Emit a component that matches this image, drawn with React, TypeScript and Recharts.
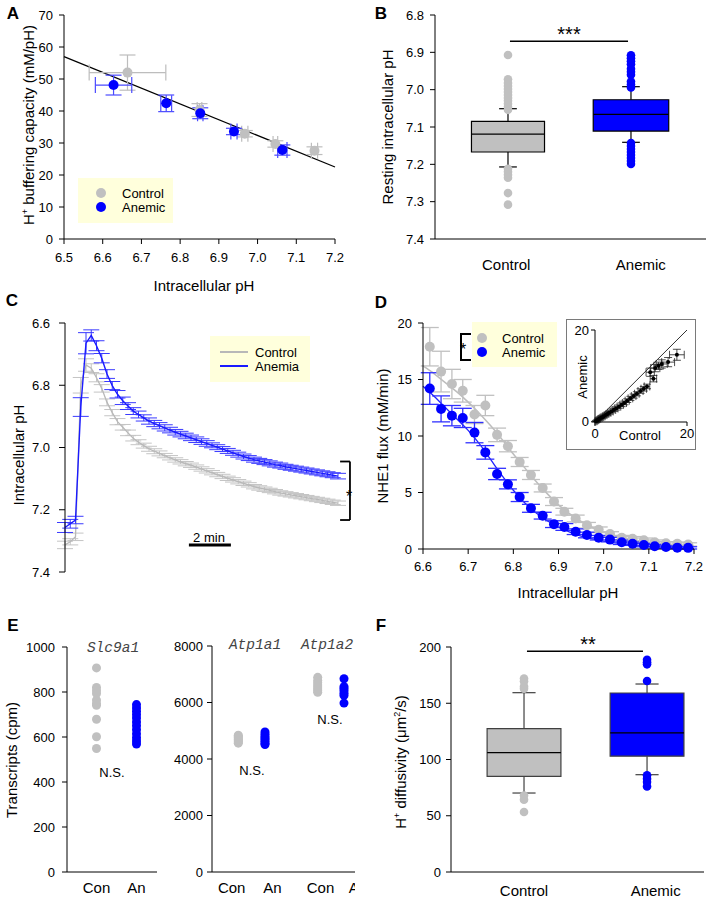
import React from 'react'
import {
  ComposedChart, Scatter, Line, XAxis, YAxis, ErrorBar, ReferenceArea, ReferenceLine,
} from 'recharts'

const FONT = '"Liberation Sans", Arial, sans-serif'
const MONO = '"Liberation Mono", "DejaVu Sans Mono", monospace'
const GRAY = '#c0c0c0'
const BLUE = '#0000ff'
const CREAM = '#ffffdc'

// ---- A: buffering capacity vs pHi
const aCtrlPH = [6.664, 6.85, 6.967, 7.046, 7.147]
const aCtrlBeta = [52.0, 40.3, 32.9, 29.7, 27.6]
const aCtrlPHErr = [0.099, 0.006, 0.008, 0.006, 0.008]
const aCtrlBetaErr = [5.5, 2.0, 1.0, 1.0, 1.2]
const aAnemPH = [6.628, 6.764, 6.852, 6.939, 7.064]
const aAnemBeta = [48.1, 42.4, 39.3, 33.6, 27.8]
const aAnemPHErr = [0.047, 0.014, 0.007, 0.008, 0.012]
const aAnemBetaErr = [3.1, 2.6, 1.7, 1.0, 1.6]
const aFitPH = [6.5, 7.2]
const aFitBeta = [57.0, 22.5]

// ---- B: resting pHi box plot (reversed axis)
const bGroups = ['Control', 'Anemic']
const bPos = [1, 2]
const bLabelPos = [0.985, 2.08]
const bQ1 = [7.085, 7.027]
const bMed = [7.119, 7.066]
const bQ3 = [7.167, 7.111]
const bWhLo = [7.051, 6.992]
const bWhHi = [7.207, 7.141]
const bOutCtrl = [6.907, 6.972, 6.982, 6.99, 6.998, 7.006, 7.014, 7.022, 7.03, 7.038, 7.046, 7.054, 7.212, 7.22, 7.228, 7.236, 7.277, 7.308]
const bOutAnem = [6.908, 6.916, 6.924, 6.932, 6.944, 6.952, 6.96, 6.978, 6.986, 6.994, 7.143, 7.151, 7.159, 7.167, 7.175, 7.183, 7.191, 7.199]

// ---- C: pHi time course (min)
const cTime = [0, 0.25, 0.5, 0.75, 1, 1.25, 1.5, 1.75, 2, 2.25, 2.5, 2.75, 3, 3.25, 3.5, 3.75, 4, 4.25, 4.5, 4.75,
  5, 5.25, 5.5, 5.75, 6, 6.25, 6.5, 6.75, 7, 7.25, 7.5, 7.75, 8, 8.25, 8.5, 8.75, 9, 9.25, 9.5, 9.75,
  10, 10.25, 10.5, 10.75, 11, 11.25, 11.5, 11.75, 12, 12.25, 12.5, 12.75, 13]
const cCtrl = [7.313, 7.303, 7.287, 6.80, 6.735, 6.745, 6.776, 6.810, 6.855, 6.888,
  6.917, 6.935, 6.953, 6.970, 6.983, 6.994, 7.004, 7.012, 7.019, 7.026,
  7.033, 7.040, 7.046, 7.052, 7.057, 7.063, 7.069, 7.075, 7.081, 7.087,
  7.093, 7.099, 7.104, 7.110, 7.115, 7.120, 7.126, 7.130, 7.134, 7.138,
  7.142, 7.146, 7.149, 7.152, 7.155, 7.158, 7.161, 7.164, 7.167, 7.170,
  7.173, 7.176, 7.179]
const cCtrlErr = [0.012, 0.010, 0.012, 0.025, 0.02, 0.014, 0.013, 0.012, 0.011, 0.010,
  0.010, 0.009, 0.009, 0.009, 0.008, 0.008, 0.008, 0.008, 0.008, 0.007,
  0.007, 0.007, 0.007, 0.007, 0.007, 0.007, 0.007, 0.007, 0.007, 0.007,
  0.007, 0.007, 0.007, 0.007, 0.007, 0.007, 0.007, 0.007, 0.007, 0.007,
  0.007, 0.007, 0.007, 0.007, 0.007, 0.007, 0.007, 0.007, 0.007, 0.007,
  0.007, 0.007, 0.007]
const cAnem = [7.257, 7.245, 7.233, 6.87, 6.665, 6.640, 6.673, 6.713, 6.764, 6.801,
  6.829, 6.850, 6.867, 6.883, 6.894, 6.905, 6.915, 6.923, 6.930, 6.937,
  6.944, 6.951, 6.957, 6.963, 6.969, 6.975, 6.981, 6.987, 6.993, 6.999,
  7.005, 7.011, 7.017, 7.023, 7.029, 7.034, 7.039, 7.043, 7.047, 7.051,
  7.055, 7.058, 7.062, 7.065, 7.068, 7.071, 7.074, 7.077, 7.080, 7.083,
  7.086, 7.089, 7.092]
const cAnemErr = [0.016, 0.014, 0.012, 0.03, 0.034, 0.018, 0.016, 0.015, 0.014, 0.013,
  0.012, 0.012, 0.011, 0.011, 0.011, 0.010, 0.010, 0.010, 0.010, 0.010,
  0.009, 0.009, 0.009, 0.009, 0.009, 0.009, 0.009, 0.009, 0.008, 0.008,
  0.008, 0.008, 0.008, 0.008, 0.008, 0.008, 0.008, 0.008, 0.008, 0.008,
  0.008, 0.008, 0.008, 0.008, 0.008, 0.008, 0.008, 0.008, 0.008, 0.008,
  0.008, 0.008, 0.009]

// ---- D: NHE1 flux vs pHi
const dPH = [6.615, 6.64, 6.664, 6.688, 6.714, 6.738, 6.764, 6.788, 6.814, 6.839, 6.865, 6.89,
  6.913, 6.938, 6.963, 6.989, 7.014, 7.04, 7.064, 7.089, 7.113, 7.138, 7.163, 7.187]
const dCtrl = [17.9, 15.7, 14.6, 14.0, 11.9, 12.7, 10.1, 9.1, 7.7, 6.55, 5.4, 4.2, 3.3, 2.7, 2.1, 1.7, 1.33, 1.0, 0.9, 0.77, 0.6, 0.5, 0.47, 0.4]
const dCtrlErr = [1.7, 1.8, 1.3, 1.0, 0.8, 0.9, 0.6, 0.5, 0.4, 0.4, 0.35, 0.35, 0.3, 0.3, 0.25, 0.25, 0.2, 0.2, 0.2, 0.2, 0.2, 0.15, 0.15, 0.15]
const dAnem = [14.2, 12.4, 11.8, 11.6, 10.3, 8.55, 6.64, 5.72, 4.6, 3.6, 2.95, 2.2, 1.95, 1.53, 1.24, 1.0, 0.83, 0.6, 0.47, 0.35, 0.24, 0.18, 0.12, 0.1]
const dAnemErr = [1.4, 1.15, 0.9, 0.85, 0.9, 0.6, 0.5, 0.4, 0.4, 0.35, 0.3, 0.3, 0.3, 0.25, 0.25, 0.2, 0.2, 0.2, 0.15, 0.15, 0.15, 0.1, 0.1, 0.1]
const dFitPH = [6.6, 6.625, 6.65, 6.675, 6.7, 6.725, 6.75, 6.775, 6.8, 6.825, 6.85, 6.875, 6.9,
  6.925, 6.95, 6.975, 7.0, 7.025, 7.05, 7.075, 7.1, 7.125, 7.15, 7.175, 7.2]
const dFitCtrl = [16.2, 15.5, 14.7, 13.9, 13.0, 12.0, 10.9, 9.7, 8.4, 7.2, 6.0, 4.9, 3.9, 3.1, 2.45, 1.9, 1.5, 1.18, 0.94, 0.75, 0.6, 0.5, 0.42, 0.36, 0.32]
const dFitAnem = [14.4, 13.5, 12.5, 11.5, 10.5, 9.3, 7.9, 6.5, 5.2, 4.1, 3.2, 2.5, 1.95, 1.5, 1.15, 0.9, 0.7, 0.55, 0.42, 0.32, 0.25, 0.19, 0.14, 0.1, 0.07]

// inset: anemic vs control flux
const insCtrl = [0.2, 0.4, 0.6, 0.8, 1.0, 1.3, 1.6, 1.9, 2.3, 2.7, 3.1, 3.6, 4.1, 4.6, 5.2, 5.8, 6.4, 7.0, 7.7, 8.4, 9.1, 9.9, 10.6, 11.3, 12.0, 12.7, 13.1, 13.8, 14.5, 15.9, 17.8]
const insAnem = [0.1, 0.25, 0.4, 0.55, 0.65, 0.85, 1.0, 1.2, 1.45, 1.7, 1.95, 2.25, 2.6, 2.9, 3.3, 3.7, 4.1, 4.6, 5.1, 5.6, 6.1, 6.7, 7.2, 7.7, 10.8, 9.4, 11.7, 12.2, 12.6, 13.0, 14.6]
const insCtrlErr = [0.2, 0.2, 0.2, 0.2, 0.25, 0.25, 0.3, 0.3, 0.3, 0.3, 0.35, 0.35, 0.4, 0.4, 0.4, 0.4, 0.45, 0.45, 0.5, 0.5, 0.5, 0.55, 0.6, 0.6, 0.9, 0.7, 1.0, 1.0, 1.2, 1.4, 1.6]
const insAnemErr = [0.15, 0.15, 0.15, 0.2, 0.2, 0.2, 0.25, 0.25, 0.25, 0.3, 0.3, 0.3, 0.35, 0.35, 0.35, 0.4, 0.4, 0.4, 0.45, 0.45, 0.45, 0.5, 0.5, 0.5, 0.9, 0.7, 0.8, 0.8, 0.9, 1.0, 1.2]

// ---- E: transcripts
const eLGroups = ['Con', 'An']
const eLPos = [2.95, 6.95]
const eSlcCon = [907, 820, 806, 793, 764, 749, 741, 679, 601, 549]
const eSlcAn = [744, 729, 714, 699, 684, 667, 650, 632, 614, 597, 582, 569]
const eRGroups = ['Con', 'An', 'Con', 'An']
const eRTickPos = [1.97, 6.05, 10.85, 14.6]
const eRDotPos = [2.63, 5.3, 10.57, 13.2]
const eAtp1Con = [4560, 4600, 4640, 4680, 4720, 4760, 4800, 4840]
const eAtp1An = [4510, 4560, 4620, 4680, 4740, 4800, 4880, 4960]
const eAtp2Con = [6360, 6420, 6480, 6550, 6620, 6700, 6780, 6890]
const eAtp2An = [5980, 6250, 6330, 6420, 6500, 6560, 6840]

// ---- F: H+ diffusivity box plot
const fGroups = ['Control', 'Anemic']
const fPos = [1, 2]
const fLabelPos = [1, 2.07]
const fQ1 = [85.0, 103.0]
const fMed = [106.1, 123.6]
const fQ3 = [127.4, 159.1]
const fWhLo = [70.2, 86.5]
const fWhHi = [159.4, 167.1]
const fOutCtrl = [171.9, 169.5, 165, 163, 68, 64.3, 53.3]
const fOutAnem = [188.7, 186.5, 184.6, 169.8, 86, 83, 80, 76.1]

const tick13 = { fill: '#000', fontSize: 13, fontFamily: FONT }
const tick15 = { fill: '#000', fontSize: 15, fontFamily: FONT }
const ax = { stroke: '#000', strokeWidth: 1 }

const dot = (r: number, fill: string) => (p: any) =>
  p.cx == null ? <g /> : <circle cx={p.cx} cy={p.cy} r={r} fill={fill} />

const pts = (xs: number[], ys: number[]) => xs.map((x, i) => ({ x, y: ys[i] }))
const col = (x: number, ys: number[]) => ys.map((y) => ({ x, y }))

function Txt({ x, y, size = 15, rot = false, bold = false, left = false, color = '#000', italic = false, family = FONT, children }: any) {
  return (
    <div style={{
      position: 'absolute', left: x, top: y, whiteSpace: 'nowrap', lineHeight: 1,
      transform: `translate(${left ? '0' : '-50%'},-50%)${rot ? ' rotate(-90deg)' : ''}`,
      fontSize: size, fontWeight: bold ? 700 : 400, fontStyle: italic ? 'italic' : 'normal',
      fontFamily: family, color,
    }}>{children}</div>
  )
}

function Pos({ x, y, w, h, clip, children }: any) {
  return <div style={{ position: 'absolute', left: x, top: y, width: w, height: h, overflow: clip ? 'hidden' : 'visible' }}>{children}</div>
}

function boxParts(k: string, pos: number, q1: number, med: number, q3: number, lo: number, hi: number,
  halfW: number, capW: number, fill: string, edge: string) {
  return [
    <ReferenceLine key={k + 'w1'} segment={[{ x: pos, y: q1 }, { x: pos, y: lo }]} stroke={edge} strokeWidth={1.2} />,
    <ReferenceLine key={k + 'w2'} segment={[{ x: pos, y: q3 }, { x: pos, y: hi }]} stroke={edge} strokeWidth={1.2} />,
    <ReferenceLine key={k + 'c1'} segment={[{ x: pos - capW, y: lo }, { x: pos + capW, y: lo }]} stroke={edge} strokeWidth={1.2} />,
    <ReferenceLine key={k + 'c2'} segment={[{ x: pos - capW, y: hi }, { x: pos + capW, y: hi }]} stroke={edge} strokeWidth={1.2} />,
    <ReferenceArea key={k + 'b'} x1={pos - halfW} x2={pos + halfW} y1={q1} y2={q3} fill={fill} fillOpacity={1} stroke={edge} strokeWidth={1.2} />,
    <ReferenceLine key={k + 'm'} segment={[{ x: pos - halfW, y: med }, { x: pos + halfW, y: med }]} stroke="#000" strokeWidth={1.2} />,
  ]
}

function PanelA() {
  const ctrl = aCtrlPH.map((x, i) => ({ x, y: aCtrlBeta[i], ex: aCtrlPHErr[i], ey: aCtrlBetaErr[i] }))
  const anem = aAnemPH.map((x, i) => ({ x, y: aAnemBeta[i], ex: aAnemPHErr[i], ey: aAnemBetaErr[i] }))
  return (
    <ComposedChart width={354} height={300} margin={{ top: 15, right: 19, bottom: 31, left: 0 }}>
      <XAxis type="number" dataKey="x" domain={[6.5, 7.2]} ticks={[6.5, 6.6, 6.7, 6.8, 6.9, 7.0, 7.1, 7.2]} interval={0}
        tickFormatter={(v) => v.toFixed(1)} height={30} tick={tick13} axisLine={ax} tickLine={ax} tickSize={5} tickMargin={9} />
      <YAxis type="number" domain={[0, 70]} ticks={[0, 10, 20, 30, 40, 50, 60, 70]} interval={0} width={64}
        tick={tick13} axisLine={ax} tickLine={ax} tickSize={5} tickMargin={6} />
      <Line data={pts(aFitPH, aFitBeta)} dataKey="y" stroke="#000" strokeWidth={1.2} dot={false} isAnimationActive={false} />
      <Scatter data={ctrl} dataKey="y" shape={dot(5, GRAY)} isAnimationActive={false}>
        <ErrorBar dataKey="ex" direction="x" width={8} stroke="#bdbdbd" strokeWidth={1.2} />
        <ErrorBar dataKey="ey" direction="y" width={8} stroke="#bdbdbd" strokeWidth={1.2} />
      </Scatter>
      <Scatter data={anem} dataKey="y" shape={dot(5, BLUE)} isAnimationActive={false}>
        <ErrorBar dataKey="ex" direction="x" width={8} stroke="#4a4aff" strokeWidth={1.2} />
        <ErrorBar dataKey="ey" direction="y" width={8} stroke="#4a4aff" strokeWidth={1.2} />
      </Scatter>
    </ComposedChart>
  )
}

function PanelB() {
  return (
    <ComposedChart width={354} height={300} margin={{ top: 15, right: 2, bottom: 31, left: 0 }}>
      <XAxis type="number" dataKey="x" domain={[0.4065, 2.61]} ticks={bLabelPos} interval={0}
        tickFormatter={(v) => bGroups[bLabelPos.indexOf(v)]} height={30} tick={tick15} axisLine={ax} tickLine={false} tickSize={0} tickMargin={20} />
      <YAxis type="number" reversed domain={[6.8, 7.4]} ticks={[6.8, 6.9, 7.0, 7.1, 7.2, 7.3, 7.4]} interval={0} width={81}
        tickFormatter={(v) => v.toFixed(1)} tick={tick13} axisLine={ax} tickLine={ax} tickSize={5} tickMargin={6} />
      <Scatter data={col(bPos[0], bOutCtrl)} dataKey="y" shape={dot(4.3, GRAY)} isAnimationActive={false} />
      <Scatter data={col(bPos[1], bOutAnem)} dataKey="y" shape={dot(4.3, BLUE)} isAnimationActive={false} />
      {boxParts('bc', bPos[0], bQ1[0], bMed[0], bQ3[0], bWhLo[0], bWhHi[0], 0.297, 0.072, GRAY, '#000')}
      {boxParts('ba', bPos[1], bQ1[1], bMed[1], bQ3[1], bWhLo[1], bWhHi[1], 0.307, 0.072, BLUE, '#000')}
      <ReferenceLine segment={[{ x: 1.016, y: 6.87 }, { x: 1.976, y: 6.87 }]} stroke="#000" strokeWidth={1.5} />
    </ComposedChart>
  )
}

function PanelC() {
  const rows = cTime.map((x, i) => ({ x, ctrl: cCtrl[i], ctrlErr: cCtrlErr[i], anem: cAnem[i], anemErr: cAnemErr[i] }))
  return (
    <ComposedChart width={354} height={310} data={rows} margin={{ top: 33, right: 16, bottom: 28, left: 0 }}>
      <XAxis type="number" dataKey="x" domain={[0, 13]} hide height={0} />
      <YAxis type="number" reversed domain={[6.6, 7.4]} ticks={[6.6, 6.8, 7.0, 7.2, 7.4]} interval={0} width={65}
        tickFormatter={(v) => v.toFixed(1)} tick={tick13} axisLine={ax} tickLine={ax} tickSize={6} tickMargin={9} />
      <Line dataKey="ctrl" stroke="#b8b8b8" strokeWidth={1.3} dot={false} isAnimationActive={false}>
        <ErrorBar dataKey="ctrlErr" direction="y" width={8} stroke="#c4c4c4" strokeWidth={1} />
      </Line>
      <Line dataKey="anem" stroke="#1a1aff" strokeWidth={1.4} dot={false} isAnimationActive={false}>
        <ErrorBar dataKey="anemErr" direction="y" width={8} stroke="#3a3aff" strokeWidth={1} />
      </Line>
      <ReferenceLine segment={[{ x: 5.9, y: 7.313 }, { x: 7.9, y: 7.313 }]} stroke="#000" strokeWidth={3} ifOverflow="visible" />
      <ReferenceLine segment={[{ x: 13.1, y: 7.045 }, { x: 13.57, y: 7.045 }]} stroke="#000" strokeWidth={1.8} ifOverflow="visible" />
      <ReferenceLine segment={[{ x: 13.57, y: 7.045 }, { x: 13.57, y: 7.233 }]} stroke="#000" strokeWidth={1.8} ifOverflow="visible" />
      <ReferenceLine segment={[{ x: 13.1, y: 7.233 }, { x: 13.57, y: 7.233 }]} stroke="#000" strokeWidth={1.8} ifOverflow="visible" />
    </ComposedChart>
  )
}

function PanelD() {
  const ctrl = dPH.map((x, i) => ({ x, y: dCtrl[i], e: dCtrlErr[i] }))
  const anem = dPH.map((x, i) => ({ x, y: dAnem[i], e: dAnemErr[i] }))
  return (
    <ComposedChart width={354} height={310} margin={{ top: 33, right: 14, bottom: 21, left: 0 }}>
      <XAxis type="number" dataKey="x" domain={[6.6, 7.2]} ticks={[6.6, 6.7, 6.8, 6.9, 7.0, 7.1, 7.2]} interval={0}
        tickFormatter={(v) => v.toFixed(1)} height={30} tick={tick13} axisLine={ax} tickLine={ax} tickSize={5} tickMargin={8} />
      <YAxis type="number" domain={[0, 20]} ticks={[0, 5, 10, 15, 20]} interval={0} width={69}
        tick={tick13} axisLine={ax} tickLine={ax} tickSize={5} tickMargin={6} />
      <Line data={pts(dFitPH, dFitCtrl)} dataKey="y" type="monotone" stroke="#bdbdbd" strokeWidth={1.5} dot={false} isAnimationActive={false} />
      <Line data={pts(dFitPH, dFitAnem)} dataKey="y" type="monotone" stroke="#2020ff" strokeWidth={1.3} dot={false} isAnimationActive={false} />
      <Scatter data={ctrl} dataKey="y" shape={dot(5, GRAY)} isAnimationActive={false}>
        <ErrorBar dataKey="e" direction="y" width={9} stroke="#c0c0c0" strokeWidth={1.3} />
      </Scatter>
      <Scatter data={anem} dataKey="y" shape={dot(5, BLUE)} isAnimationActive={false}>
        <ErrorBar dataKey="e" direction="y" width={9} stroke="#3030ff" strokeWidth={1.3} />
      </Scatter>
    </ComposedChart>
  )
}

function Inset() {
  const rows = insCtrl.map((x, i) => ({ x, y: insAnem[i], ex: insCtrlErr[i], ey: insAnemErr[i] }))
  return (
    <ComposedChart width={128} height={129} margin={{ top: 10, right: 8, bottom: 7, left: 0 }}>
      <XAxis type="number" dataKey="x" domain={[0, 20]} ticks={[0, 20]} interval={0} height={20}
        tick={tick13} axisLine={ax} tickLine={ax} tickSize={4} tickMargin={3} />
      <YAxis type="number" domain={[0, 20]} ticks={[0, 20]} interval={0} width={28}
        tick={tick13} axisLine={ax} tickLine={ax} tickSize={4} tickMargin={2} />
      <ReferenceLine segment={[{ x: 0, y: 0 }, { x: 20, y: 20 }]} stroke="#333" strokeWidth={1} />
      <Scatter data={rows} dataKey="y" shape={dot(2, '#000')} isAnimationActive={false}>
        <ErrorBar dataKey="ex" direction="x" width={4} stroke="#222" strokeWidth={0.8} />
        <ErrorBar dataKey="ey" direction="y" width={4} stroke="#222" strokeWidth={0.8} />
      </Scatter>
    </ComposedChart>
  )
}

function PanelELeft() {
  return (
    <ComposedChart width={170} height={298} margin={{ top: 47, right: 13, bottom: 0, left: 0 }}>
      <XAxis type="number" dataKey="x" domain={[0, 9]} ticks={eLPos} interval={0}
        tickFormatter={(v) => eLGroups[eLPos.indexOf(v)]} height={26} tick={tick15} axisLine={ax} tickLine={false} tickSize={0} tickMargin={10} />
      <YAxis type="number" domain={[0, 1000]} ticks={[0, 200, 400, 600, 800, 1000]} interval={0} width={67}
        tick={tick13} axisLine={ax} tickLine={ax} tickSize={5} tickMargin={7} />
      <Scatter data={col(eLPos[0], eSlcCon)} dataKey="y" shape={dot(4.5, GRAY)} isAnimationActive={false} />
      <Scatter data={col(eLPos[1], eSlcAn)} dataKey="y" shape={dot(4.5, BLUE)} isAnimationActive={false} />
    </ComposedChart>
  )
}

function PanelERight() {
  return (
    <ComposedChart width={200} height={298} margin={{ top: 46, right: 8, bottom: 0, left: 0 }}>
      <XAxis type="number" dataKey="x" domain={[0, 15]} ticks={eRTickPos} interval={0}
        tickFormatter={(v) => eRGroups[eRTickPos.indexOf(v)]} height={26} tick={tick15} axisLine={ax} tickLine={false} tickSize={0} tickMargin={10} />
      <YAxis type="number" domain={[0, 8000]} ticks={[0, 2000, 4000, 6000, 8000]} interval={0} width={42}
        tick={tick13} axisLine={ax} tickLine={ax} tickSize={5} tickMargin={4} />
      <Scatter data={col(eRDotPos[0], eAtp1Con)} dataKey="y" shape={dot(4.5, GRAY)} isAnimationActive={false} />
      <Scatter data={col(eRDotPos[1], eAtp1An)} dataKey="y" shape={dot(4.5, BLUE)} isAnimationActive={false} />
      <Scatter data={col(eRDotPos[2], eAtp2Con)} dataKey="y" shape={dot(4.5, GRAY)} isAnimationActive={false} />
      <Scatter data={col(eRDotPos[3], eAtp2An)} dataKey="y" shape={dot(4.5, BLUE)} isAnimationActive={false} />
    </ComposedChart>
  )
}

function PanelF() {
  return (
    <ComposedChart width={354} height={298} margin={{ top: 47, right: 4, bottom: 0, left: 0 }}>
      <XAxis type="number" dataKey="x" domain={[0.4065, 2.463]} ticks={fLabelPos} interval={0}
        tickFormatter={(v) => fGroups[fLabelPos.indexOf(v)]} height={26} tick={tick15} axisLine={ax} tickLine={false} tickSize={0} tickMargin={13} />
      <YAxis type="number" domain={[0, 200]} ticks={[0, 50, 100, 150, 200]} interval={0} width={97}
        tick={tick13} axisLine={ax} tickLine={ax} tickSize={5} tickMargin={5} />
      <Scatter data={col(fPos[0], fOutCtrl)} dataKey="y" shape={dot(4.3, GRAY)} isAnimationActive={false} />
      <Scatter data={col(fPos[1], fOutAnem)} dataKey="y" shape={dot(4.3, BLUE)} isAnimationActive={false} />
      {boxParts('fc', fPos[0], fQ1[0], fMed[0], fQ3[0], fWhLo[0], fWhHi[0], 0.3, 0.094, GRAY, '#404040')}
      {boxParts('fa', fPos[1], fQ1[1], fMed[1], fQ3[1], fWhLo[1], fWhHi[1], 0.3, 0.094, BLUE, '#404040')}
      <ReferenceLine segment={[{ x: 1.024, y: 196.2 }, { x: 1.967, y: 196.2 }]} stroke="#000" strokeWidth={1.5} />
    </ComposedChart>
  )
}

function LegendDot({ x, y, color }: any) {
  return <div style={{ position: 'absolute', left: x - 5, top: y - 5, width: 10, height: 10, borderRadius: 5, background: color }} />
}

export default function App() {
  return (
    <div style={{ position: 'absolute', left: 0, top: 0, width: 708, height: 898, background: '#fff', fontFamily: FONT, overflow: 'hidden' }}>
      {/* A */}
      <Pos x={0} y={0}><PanelA /></Pos>
      <div style={{ position: 'absolute', left: 78, top: 178, width: 95, height: 45, background: CREAM }} />
      <LegendDot x={101} y={193} color={GRAY} />
      <LegendDot x={101} y={207} color={BLUE} />
      <Txt x={122} y={193} size={13} left>Control</Txt>
      <Txt x={122} y={207} size={13} left>Anemic</Txt>
      <Txt x={204} y={285}>Intracellular pH</Txt>
      <Txt x={28} y={125} rot>H<sup style={{ fontSize: 9 }}>+</sup> buffering capacity (mM/pH)</Txt>
      <Txt x={13} y={13} size={17} bold>A</Txt>

      {/* B */}
      <Pos x={354} y={0}><PanelB /></Pos>
      <Txt x={569} y={34} size={20}>***</Txt>
      <Txt x={387} y={127} rot>Resting intracellular pH</Txt>
      <Txt x={381} y={13} size={17} bold>B</Txt>

      {/* C */}
      <Pos x={0} y={290}><PanelC /></Pos>
      <div style={{ position: 'absolute', left: 210, top: 336, width: 100, height: 46, background: CREAM }} />
      <div style={{ position: 'absolute', left: 220, top: 351, width: 28, height: 1.5, background: '#b8b8b8' }} />
      <div style={{ position: 'absolute', left: 220, top: 365, width: 28, height: 1.5, background: '#1a1aff' }} />
      <Txt x={255} y={352} size={13} left>Control</Txt>
      <Txt x={255} y={366} size={13} left>Anemia</Txt>
      <Txt x={209} y={537} size={13}>2 min</Txt>
      <Txt x={349} y={497} size={16}>*</Txt>
      <Txt x={18} y={455} rot>Intracellular pH</Txt>
      <Txt x={12} y={300} size={17} bold>C</Txt>

      {/* D */}
      <Pos x={354} y={290}><PanelD /></Pos>
      <div style={{ position: 'absolute', left: 472, top: 322, width: 85, height: 45, background: CREAM }} />
      <LegendDot x={482} y={338} color={GRAY} />
      <LegendDot x={482} y={352} color={BLUE} />
      <Txt x={502} y={338} size={13} left>Control</Txt>
      <Txt x={502} y={352} size={13} left>Anemic</Txt>
      <div style={{ position: 'absolute', left: 460, top: 333, width: 9, height: 24, borderLeft: '2px solid #000', borderTop: '2px solid #000', borderBottom: '2px solid #000' }} />
      <Txt x={463} y={350} size={16}>*</Txt>
      <div style={{ position: 'absolute', left: 566, top: 319, width: 128, height: 129, border: '1px solid #7a7a7a', background: '#fff' }}>
        <Inset />
      </div>
      <Txt x={640} y={435} size={13}>Control</Txt>
      <Txt x={582} y={377} size={13} rot>Anemic</Txt>
      <Txt x={568} y={592}>Intracellular pH</Txt>
      <Txt x={382} y={436} rot>NHE1 flux (mM/min)</Txt>
      <Txt x={381} y={302} size={17} bold>D</Txt>

      {/* E */}
      <Pos x={0} y={600}><PanelELeft /></Pos>
      <Pos x={170} y={600} w={185} h={298} clip><PanelERight /></Pos>
      <Txt x={113} y={648} size={14.5} italic family={MONO} color="#444">Slc9a1</Txt>
      <Txt x={255} y={645} size={14.5} italic family={MONO} color="#444">Atp1a1</Txt>
      <Txt x={327} y={645} size={14.5} italic family={MONO} color="#444">Atp1a2</Txt>
      <Txt x={112} y={772} size={13}>N.S.</Txt>
      <Txt x={252} y={770} size={13}>N.S.</Txt>
      <Txt x={330} y={719} size={13}>N.S.</Txt>
      <Txt x={11} y={760} rot>Transcripts (cpm)</Txt>
      <Txt x={13} y={625} size={17} bold>E</Txt>

      {/* F */}
      <Pos x={354} y={600}><PanelF /></Pos>
      <Txt x={588} y={644} size={20}>**</Txt>
      <Txt x={400} y={762} rot>H<sup style={{ fontSize: 9 }}>+</sup> diffusivity (μm<sup style={{ fontSize: 9 }}>2</sup>/s)</Txt>
      <Txt x={381} y={625} size={17} bold>F</Txt>
    </div>
  )
}
